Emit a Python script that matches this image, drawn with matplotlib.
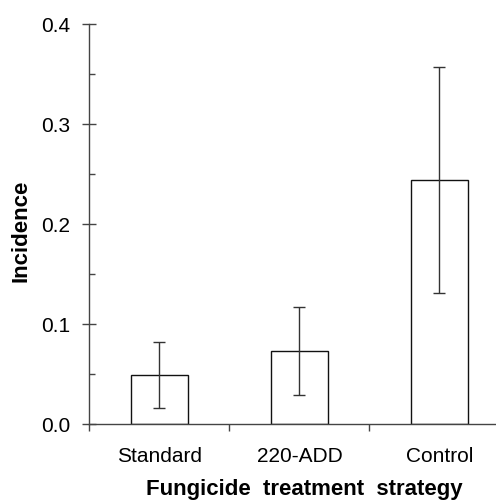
import numpy as np
import matplotlib
matplotlib.use("Agg")
import matplotlib.pyplot as plt
from matplotlib.ticker import FixedLocator, MultipleLocator, FormatStrFormatter

plt.rcParams['font.family'] = ['Liberation Sans', 'DejaVu Sans']

treatments = ['Standard', '220-ADD', 'Control']
incidence = [0.049, 0.073, 0.244]
err = [0.033, 0.044, 0.113]

fig = plt.figure(figsize=(4.96, 5.02), dpi=100)
ax = fig.add_axes([0.1804, 0.1534, 0.8468, 0.7968])

pos = np.arange(len(treatments))
ax.bar(pos, incidence, width=0.41, color='white', edgecolor='#111111', linewidth=1.0, zorder=2)
ax.errorbar(pos, incidence, yerr=err, fmt='none', ecolor='#333333', elinewidth=1.0,
            capsize=4, capthick=1.0, zorder=3)

ax.set_xlim(-0.5, 2.5)
ax.set_ylim(0, 0.4)

for s in ['top', 'right']:
    ax.spines[s].set_visible(False)
for s in ['left', 'bottom']:
    ax.spines[s].set_color('#444444')
    ax.spines[s].set_linewidth(1.0)

# y axis: labelled majors crossing the spine, small inward minors
ax.yaxis.set_major_locator(MultipleLocator(0.1))
ax.yaxis.set_minor_locator(MultipleLocator(0.05))
ax.yaxis.set_major_formatter(FormatStrFormatter('%.1f'))
ax.tick_params(axis='y', which='major', direction='inout', length=10, width=1,
               color='#444444', labelsize=15, pad=9)
ax.tick_params(axis='y', which='minor', direction='in', length=4, width=1, color='#444444')

# x axis: tick marks between categories, names centred without ticks
ax.xaxis.set_major_locator(FixedLocator([-0.5, 0.5, 1.5, 2.5]))
ax.xaxis.set_minor_locator(FixedLocator(pos))
ax.set_xticklabels([], minor=False)
ax.set_xticklabels(treatments, minor=True)
ax.tick_params(axis='x', which='major', direction='out', length=5, width=1, color='#444444')
ax.tick_params(axis='x', which='minor', length=0, labelsize=15, pad=15.5)

ax.set_ylabel('Incidence', fontsize=16, fontweight='bold')
ax.yaxis.set_label_coords(-0.137, 0.485)
ax.set_xlabel('Fungicide  treatment  strategy', fontsize=16, fontweight='bold')
ax.xaxis.set_label_coords(0.511, -0.136)

fig.savefig('out.png', dpi=100)
